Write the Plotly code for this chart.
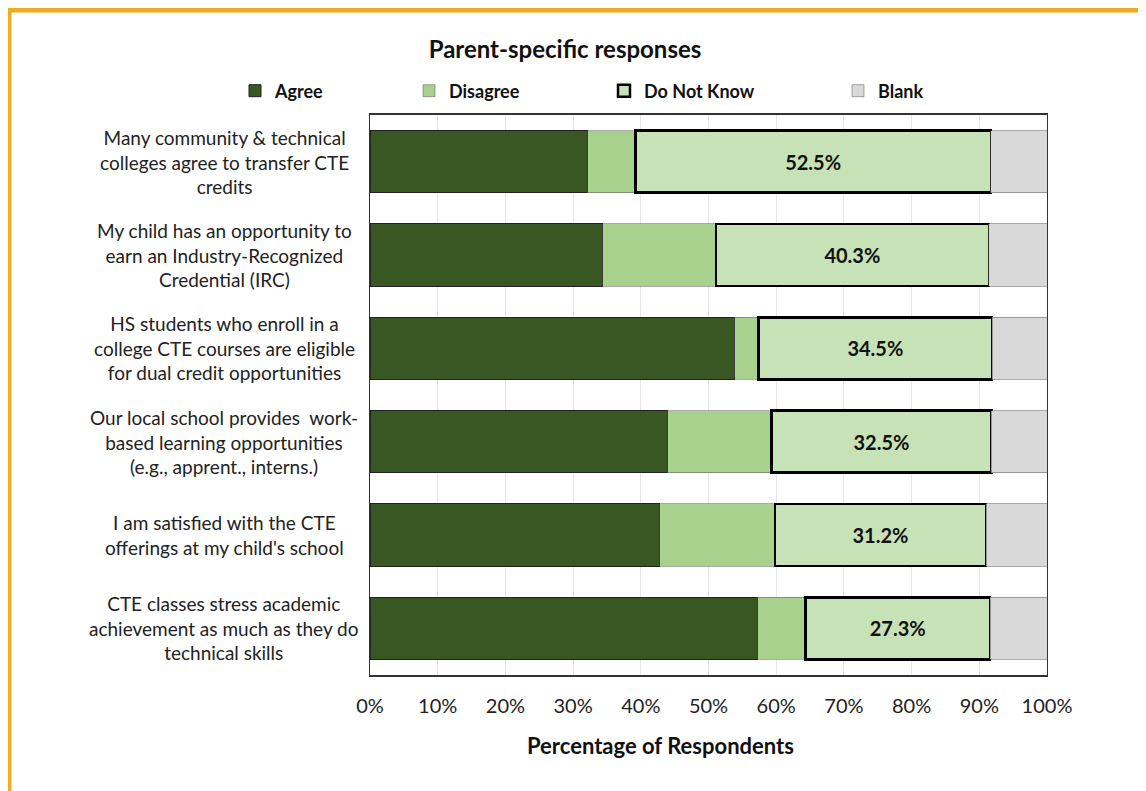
import plotly.graph_objects as go

categories = [
    "Many community & technical<br>colleges agree to transfer CTE<br>credits",
    "My child has an opportunity to<br>earn an Industry-Recognized<br>Credential (IRC)",
    "HS students who enroll in a<br>college CTE courses are eligible<br>for dual credit opportunities",
    "Our local school provides  work-<br>based learning opportunities<br>(e.g., apprent., interns.)",
    "I am satisfied with the CTE<br>offerings at my child's school",
    "CTE classes stress academic<br>achievement as much as they do<br>technical skills",
]
agree = [32.2, 34.4, 53.9, 44.0, 42.8, 57.3]
disagree = [7.0, 16.7, 3.5, 15.3, 17.0, 7.0]
do_not_know = [52.5, 40.3, 34.5, 32.5, 31.2, 27.3]
blank = [8.3, 8.6, 8.1, 8.2, 9.0, 8.4]
x_ticks = [0, 10, 20, 30, 40, 50, 60, 70, 80, 90, 100]
x_tick_labels = [f"{v}%" for v in x_ticks]

FONT = "Lato"
OFF = 8  # default page body margin

W0 = 370; W1 = 1047; T0 = 115; B0 = 675
pw = W1 - W0; ph = B0 - T0
def px(x): return (x - W0) / pw
def py(y): return (B0 - y) / ph

fig = go.Figure()
fig.add_trace(go.Bar(y=categories, x=agree, orientation="h", name="Agree", legend="legend",
                     marker=dict(color="#385723", line=dict(color="#222222", width=1))))
fig.add_trace(go.Bar(y=categories, x=disagree, orientation="h", name="Disagree", legend="legend2",
                     marker=dict(color="#a9d18e", line=dict(color="#555555", width=0.5))))
fig.add_trace(go.Bar(y=categories, x=do_not_know, orientation="h", name="Do Not Know", legend="legend3",
                     marker=dict(color="#c7e2b6", line=dict(color="#000000", width=2.5)),
                     text=[f"{v:.1f}%" for v in do_not_know], textposition="inside",
                     insidetextanchor="middle",
                     textfont=dict(family=FONT, size=20, color="#111111", weight="bold")))
fig.add_trace(go.Bar(y=categories, x=blank, orientation="h", name="Blank", legend="legend4",
                     marker=dict(color="#d9d9d9", line=dict(color="#555555", width=0.5))))

for c in categories:
    fig.add_annotation(x=-0.215, xref="paper", y=c, yref="y", text=c, showarrow=False,
                       xanchor="center", yanchor="middle", align="center",
                       font=dict(family=FONT, size=19, color="#222222"))

fig.add_annotation(x=px(660), xref="paper", y=py(745), yref="paper",
                   text="<b>Percentage of Respondents</b>", showarrow=False,
                   xanchor="center", yanchor="middle",
                   font=dict(family=FONT, size=22, color="#111111"))

orange = "#f0ac1e"
fig.add_shape(type="line", xref="paper", yref="paper", x0=px(9), x1=px(9), y0=py(8), y1=py(800),
              line=dict(color=orange, width=5))
fig.add_shape(type="line", xref="paper", yref="paper", x0=px(7), x1=px(1160), y0=py(10), y1=py(10),
              line=dict(color=orange, width=5))

legend_text_x = [275, 449, 644, 878]
def leg(tx):
    return dict(orientation="h", x=px(tx - 40), xanchor="left", y=py(91), yanchor="middle",
                itemwidth=30, font=dict(family=FONT, size=18, color="#111111", weight="bold"),
                bgcolor="rgba(0,0,0,0)")

FW = 1146 - OFF; FH = 791 - OFF
fig.update_layout(
    barmode="stack", bargap=0.335,
    width=FW, height=FH,
    margin=dict(l=W0 - OFF, r=1146 - W1, t=T0 - OFF, b=791 - B0),
    paper_bgcolor="white", plot_bgcolor="white",
    font=dict(family=FONT, color="#222222"),
    title=dict(text="<b>Parent-specific responses</b>", x=(565 - OFF) / FW, xanchor="center",
               y=1 - (50 - OFF) / FH, yanchor="middle", font=dict(family=FONT, size=24, color="#111111")),
    legend=leg(legend_text_x[0]),
    legend2=leg(legend_text_x[1]),
    legend3=leg(legend_text_x[2]),
    legend4=leg(legend_text_x[3]),
    showlegend=True,
)
fig.update_xaxes(range=[0, 100], tickvals=x_ticks, ticktext=x_tick_labels,
                 showgrid=True, gridcolor="#e6e6e6", gridwidth=1,
                 showline=True, linecolor="#333333", linewidth=1.5, mirror=True,
                 tickfont=dict(family=FONT, size=20, color="#222222"), ticks="",
                 ticklabelstandoff=12, zeroline=False)
fig.update_yaxes(categoryorder="array", categoryarray=categories, autorange="reversed",
                 showticklabels=False, showgrid=False,
                 showline=True, linecolor="#333333", linewidth=1, mirror=True)

fig.write_html("out.html")
